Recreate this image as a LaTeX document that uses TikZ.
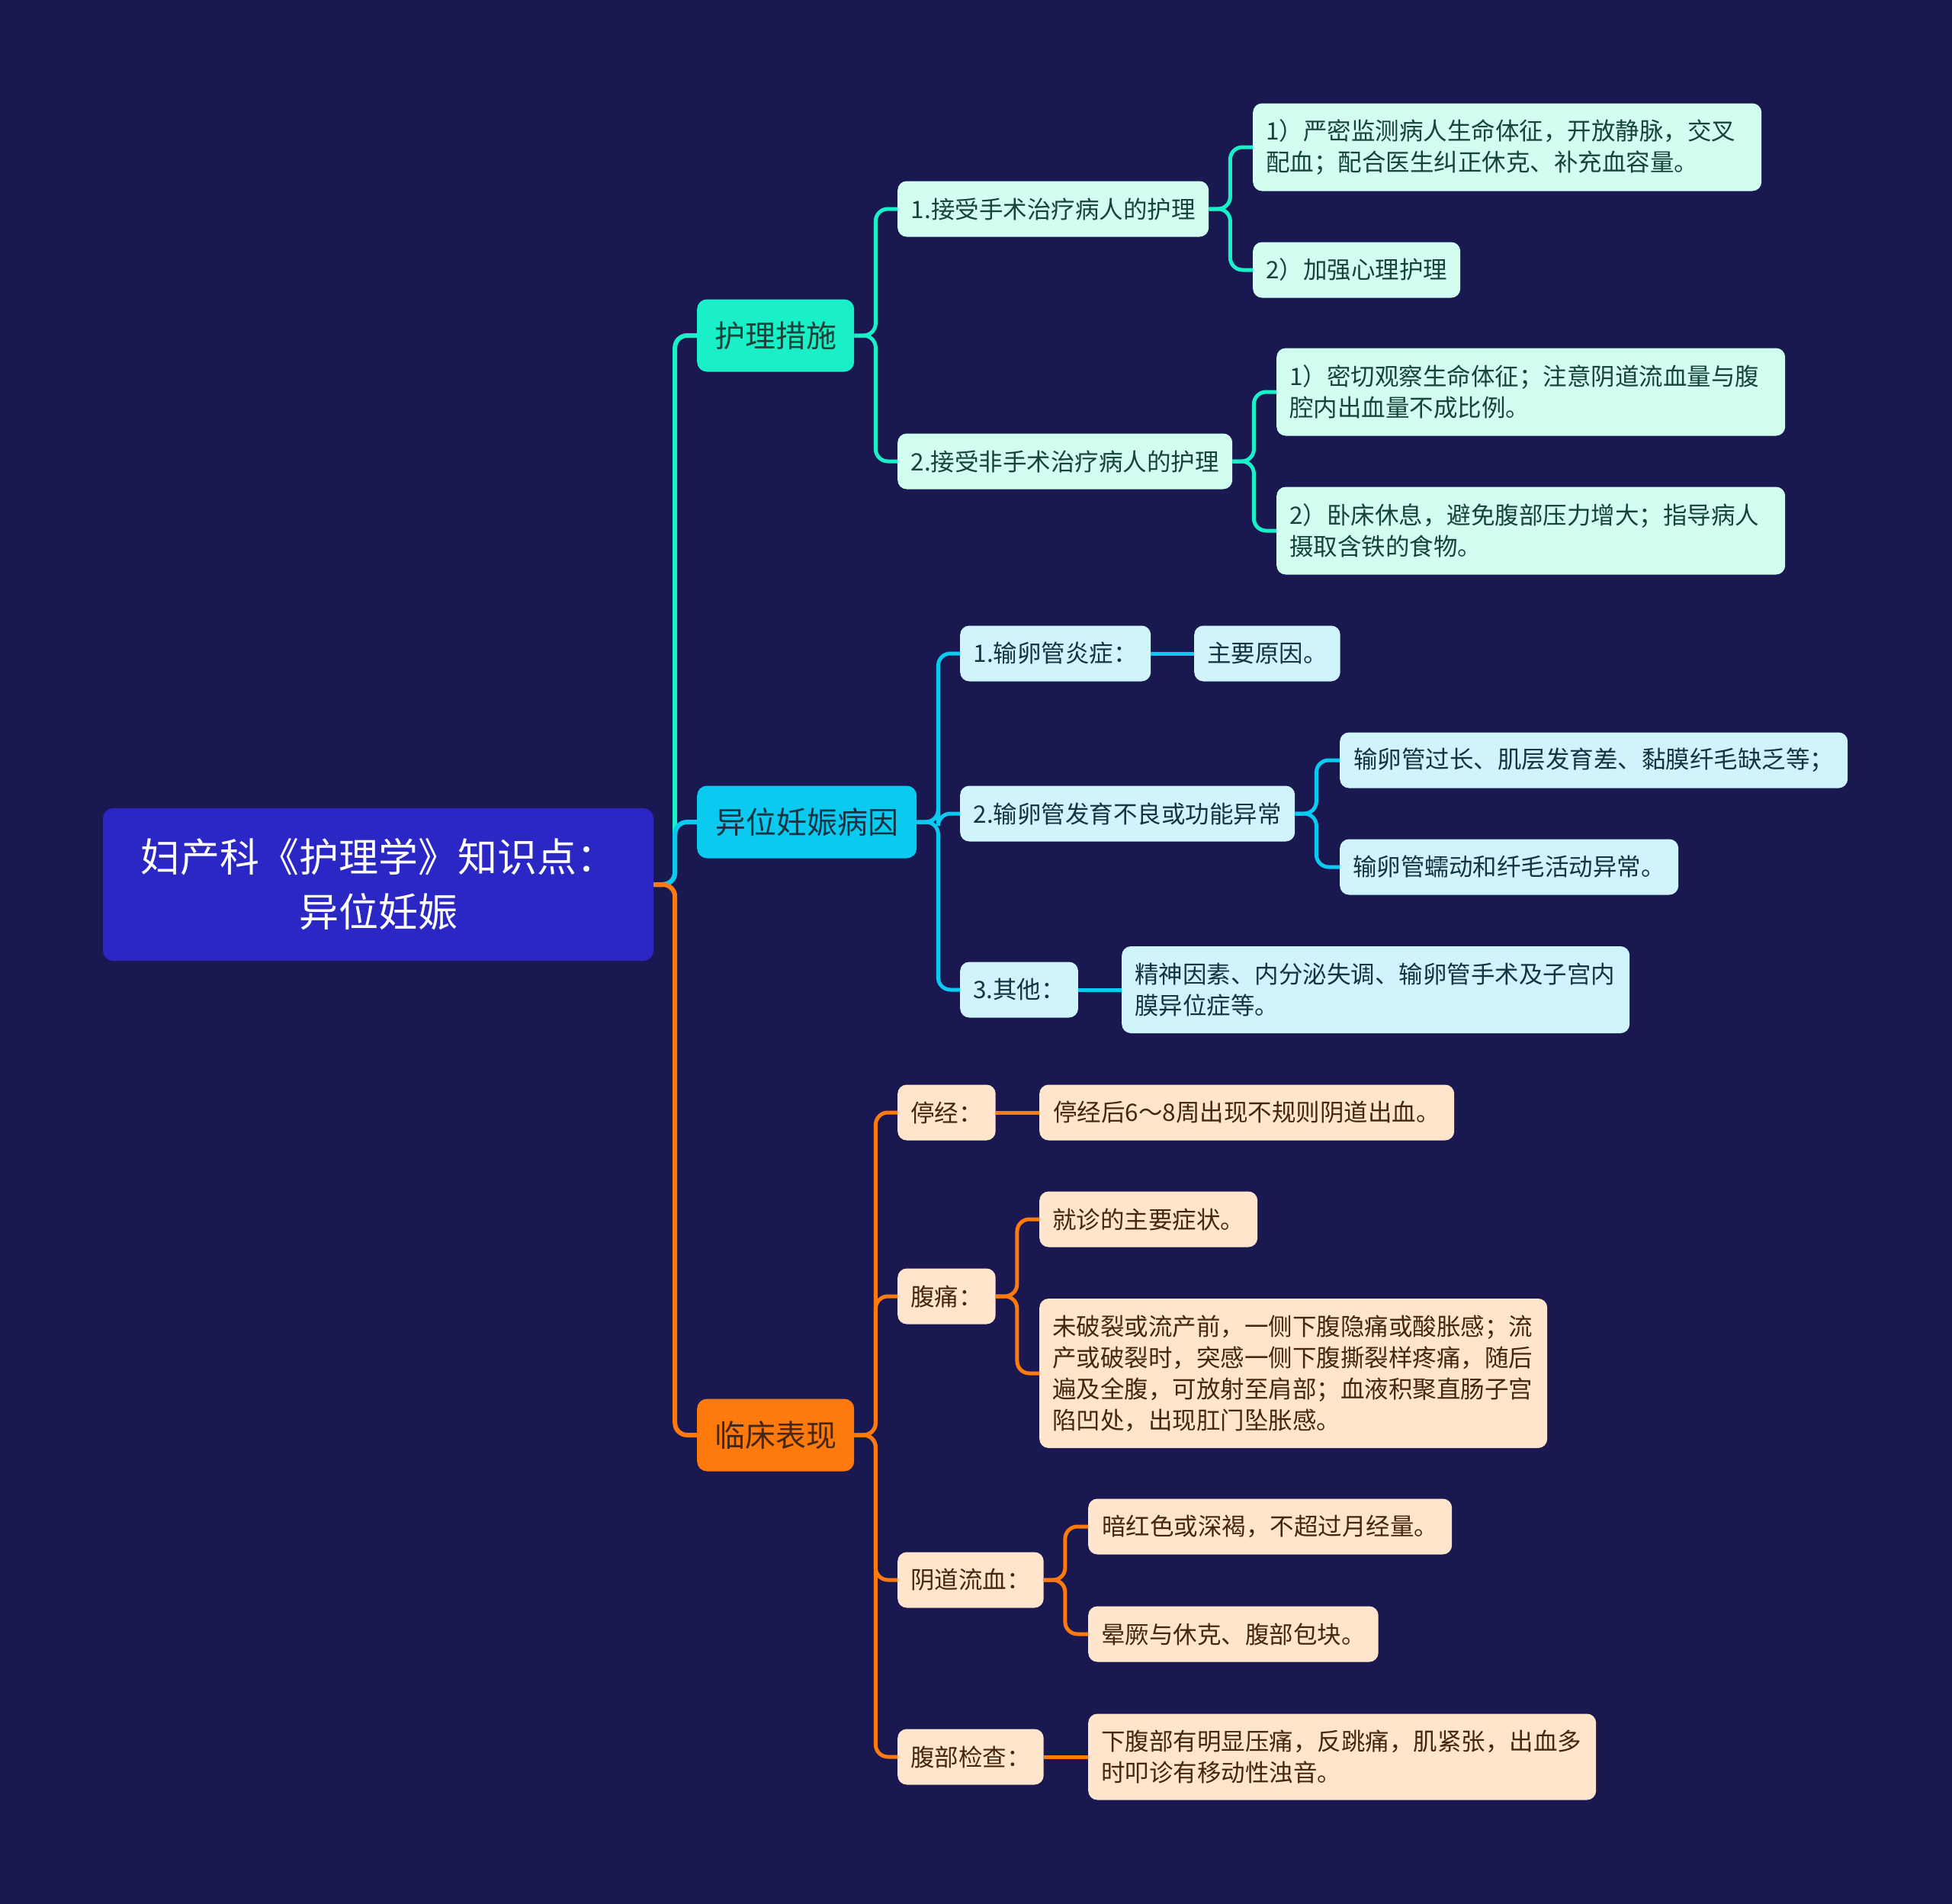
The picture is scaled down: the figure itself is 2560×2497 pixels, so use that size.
\documentclass[tikz,border=0pt]{standalone}
\usepackage{fontspec}
\setmainfont{Noto Sans CJK SC}

\definecolor{bgcol}{HTML}{191851}
\definecolor{rootcol}{HTML}{2A27C5}
\definecolor{carecol}{HTML}{1AF0C8}
\definecolor{causecol}{HTML}{0ACBEF}
\definecolor{cliniccol}{HTML}{FF7A0D}
\definecolor{carelight}{HTML}{D2FDF1}
\definecolor{causelight}{HTML}{D0F4FC}
\definecolor{cliniclight}{HTML}{FFE5CC}
\definecolor{caretext}{HTML}{17443A}
\definecolor{causetext}{HTML}{133444}
\definecolor{clinictext}{HTML}{452710}

\tikzset{
    topic/.style={rounded corners=13pt, minimum height=95pt, inner sep=0pt, anchor=west,
        font=\fontsize{40}{50}\selectfont},
    leaf/.style={rounded corners=12pt, minimum height=73pt, inner xsep=17pt, inner ysep=0pt,
        anchor=west, align=left, font=\fontsize{31.5}{41}\selectfont},
    careleaf/.style={leaf, fill=carelight, text=caretext},
    causeleaf/.style={leaf, fill=causelight, text=causetext},
    clinicleaf/.style={leaf, fill=cliniclight, text=clinictext},
    link/.style={line width=5pt, rounded corners=16pt},
}

\begin{document}
\begin{tikzpicture}[x=1pt, y=-1pt]
    \useasboundingbox (0,0) rectangle (2560,2497);
    \fill[bgcol] (0,0) rectangle (2560,2497);

    % centre
    \node[rounded corners=13pt, fill=rootcol, text=white, minimum width=722pt, minimum height=200pt,
        align=center, font=\fontsize{52}{72}\selectfont] (root) at (496,1160)
        {妇产科《护理学》知识点：\\异位妊娠};

    % main branches
    \node[topic, fill=carecol, text=caretext, minimum width=206pt] (care) at (914,440) {护理措施};
    \node[topic, fill=causecol, text=causetext, minimum width=288pt] (cause) at (914,1078) {异位妊娠病因};
    \node[topic, fill=cliniccol, text=clinictext, minimum width=206pt] (clinic) at (914,1882) {临床表现};

    % care
    \node[careleaf, minimum width=408pt] (care1) at (1177,274) {1.接受手术治疗病人的护理};
    \node[careleaf, minimum width=439pt] (care2) at (1177,605) {2.接受非手术治疗病人的护理};
    \node[careleaf, text width=633pt, minimum height=115pt] (care11) at (1643,193)
        {1）严密监测病人生命体征，开放静脉，交叉\\配血；配合医生纠正休克、补充血容量。};
    \node[careleaf, minimum width=272pt] (care12) at (1643,354) {2）加强心理护理};
    \node[careleaf, text width=633pt, minimum height=115pt] (care21) at (1674,514)
        {1）密切观察生命体征；注意阴道流血量与腹\\腔内出血量不成比例。};
    \node[careleaf, text width=633pt, minimum height=115pt] (care22) at (1674,696)
        {2）卧床休息，避免腹部压力增大；指导病人\\摄取含铁的食物。};

    % cause
    \node[causeleaf, minimum width=250pt] (cause1) at (1259,857) {1.输卵管炎症：};
    \node[causeleaf, minimum width=191pt] (cause11) at (1566,857) {主要原因。};
    \node[causeleaf, minimum width=439pt] (cause2) at (1259,1067) {2.输卵管发育不良或功能异常};
    \node[causeleaf, minimum width=666pt] (cause21) at (1757,997) {输卵管过长、肌层发育差、黏膜纤毛缺乏等；};
    \node[causeleaf, minimum width=444pt] (cause22) at (1757,1137) {输卵管蠕动和纤毛活动异常。};
    \node[causeleaf, minimum width=153pt] (cause3) at (1259,1298) {3.其他：};
    \node[causeleaf, text width=632pt, minimum height=114pt] (cause31) at (1471,1298)
        {精神因素、内分泌失调、输卵管手术及子宫内\\膜异位症等。};

    % clinic
    \node[clinicleaf, minimum width=128pt] (clinic1) at (1177,1459) {停经：};
    \node[clinicleaf, minimum width=544pt] (clinic11) at (1363,1459) {停经后6～8周出现不规则阴道出血。};
    \node[clinicleaf, minimum width=128pt] (clinic2) at (1177,1700) {腹痛：};
    \node[clinicleaf, minimum width=286pt] (clinic21) at (1363,1599) {就诊的主要症状。};
    \node[clinicleaf, text width=632pt, minimum height=196pt] (clinic22) at (1363,1801)
        {未破裂或流产前，一侧下腹隐痛或酸胀感；流\\产或破裂时，突感一侧下腹撕裂样疼痛，随后\\遍及全腹，可放射至肩部；血液积聚直肠子宫\\陷凹处，出现肛门坠胀感。};
    \node[clinicleaf, minimum width=191pt] (clinic3) at (1177,2072) {阴道流血：};
    \node[clinicleaf, minimum width=477pt] (clinic31) at (1427,2002) {暗红色或深褐，不超过月经量。};
    \node[clinicleaf, minimum width=380pt] (clinic32) at (1427,2143) {晕厥与休克、腹部包块。};
    \node[clinicleaf, minimum width=191pt] (clinic4) at (1177,2304) {腹部检查：};
    \node[clinicleaf, text width=632pt, minimum height=113pt] (clinic41) at (1427,2304)
        {下腹部有明显压痛，反跳痛，肌紧张，出血多\\时叩诊有移动性浊音。};

    % links
    \draw[link, carecol, line width=6pt] (root.east) -- ++(28,0) |- (care.west);
    \draw[link, causecol, line width=6pt] (root.east) -- ++(28,0) |- (cause.west);
    \draw[link, cliniccol, line width=6pt] (root.east) -- ++(28,0) |- (clinic.west);

    \foreach \from/\to in {care/care1, care/care2, care1/care11, care1/care12, care2/care21, care2/care22}
        \draw[link, carecol] (\from.east) -- ++(28,0) |- (\to.west);
    \foreach \from/\to in {cause/cause1, cause/cause2, cause/cause3, cause2/cause21, cause2/cause22}
        \draw[link, causecol] (\from.east) -- ++(28,0) |- (\to.west);
    \foreach \from/\to in {clinic/clinic1, clinic/clinic2, clinic/clinic3, clinic/clinic4,
            clinic2/clinic21, clinic2/clinic22, clinic3/clinic31, clinic3/clinic32}
        \draw[link, cliniccol] (\from.east) -- ++(28,0) |- (\to.west);

    % straight links
    \draw[link, causecol] (cause1) -- (cause11);
    \draw[link, causecol] (cause3) -- (cause31);
    \draw[link, cliniccol] (clinic1) -- (clinic11);
    \draw[link, cliniccol] (clinic4) -- (clinic41);
\end{tikzpicture}
\end{document}
